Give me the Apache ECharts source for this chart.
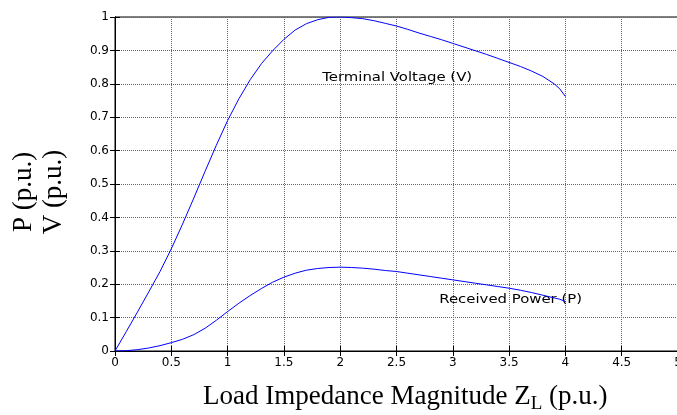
<!DOCTYPE html>
<html>
<head>
<meta charset="utf-8">
<script src="https://cdn.jsdelivr.net/npm/echarts@6/dist/echarts.min.js"></script>
<style>
  html, body { margin: 0; padding: 0; background: #fff; }
  #myChart { width: 677px; height: 415px; }
</style>
</head>
<body>
<div id="myChart"></div>
<script>
// load impedance magnitude Z_L (p.u.)
const zl = [0, 0.1, 0.2, 0.3, 0.4, 0.5, 0.6, 0.7, 0.8, 0.9, 1.0, 1.1, 1.2, 1.3, 1.4, 1.5, 1.6, 1.7, 1.8, 1.9, 2.0,
  2.1, 2.2, 2.3, 2.4, 2.5, 2.6, 2.7, 2.8, 2.9, 3.0, 3.1, 3.2, 3.3, 3.4, 3.5, 3.6, 3.7, 3.8, 3.9, 3.95, 4.0];
// terminal voltage V (p.u.)
const voltage = [0, 0.058, 0.117, 0.177, 0.238, 0.306, 0.38, 0.458, 0.538, 0.616, 0.69, 0.755, 0.812, 0.86,
  0.899, 0.933, 0.961, 0.98, 0.992, 0.999, 1.0, 0.998, 0.995, 0.989, 0.981, 0.973, 0.963, 0.952, 0.942, 0.932,
  0.921, 0.91, 0.899, 0.888, 0.876, 0.864, 0.852, 0.838, 0.822, 0.80, 0.785, 0.762];
// received power P (p.u.)
const power = [0, 0.001, 0.004, 0.009, 0.016, 0.025, 0.035, 0.049, 0.068, 0.092, 0.118, 0.143, 0.166, 0.187,
  0.206, 0.221, 0.233, 0.242, 0.247, 0.25, 0.251, 0.25, 0.248, 0.245, 0.241, 0.238, 0.233, 0.228, 0.223, 0.218,
  0.213, 0.208, 0.203, 0.198, 0.193, 0.188, 0.182, 0.175, 0.167, 0.159, 0.155, 0.148];

const annotations = [
  { text: 'Terminal Voltage (V)', at: [1.84, 0.817] },
  { text: 'Received Power (P)', at: [2.88, 0.152] },
];

const tickFont = 'DejaVu Sans';
const titleFont = 'Liberation Serif';

let myChart = echarts.init(document.getElementById('myChart'));

const gridLine = { show: true, lineStyle: { color: '#666', type: [1, 1], width: 1 } };

let option = {
  animation: false,
  grid: {
    left: 115, right: -1, top: 17, bottom: 64, outerBoundsMode: 'none',
    show: true, borderColor: '#000', borderWidth: 1,
  },
  xAxis: [
    {
      type: 'value', min: 0, max: 5, interval: 0.5,
      axisLine: { lineStyle: { color: '#000' } },
      axisTick: { inside: true, length: 5, lineStyle: { color: '#000' } },
      axisLabel: { color: '#000', fontFamily: tickFont, fontSize: 12, margin: 6 },
      splitLine: gridLine,
    },
    {
      type: 'value', min: 0, max: 5, interval: 0.5, position: 'top',
      axisLine: { lineStyle: { color: '#000' } },
      axisTick: { inside: true, length: 5, lineStyle: { color: '#000' } },
      axisLabel: { show: false },
      splitLine: { show: false },
    },
  ],
  yAxis: [
    {
      type: 'value', min: 0, max: 1, interval: 0.1,
      axisLine: { show: true, lineStyle: { color: '#000' } },
      axisTick: { show: true, inside: true, length: 5, lineStyle: { color: '#000' } },
      axisLabel: { color: '#000', fontFamily: tickFont, fontSize: 12, margin: 6 },
      splitLine: gridLine,
    },
    {
      type: 'value', min: 0, max: 1, interval: 0.1, position: 'right',
      axisLine: { show: true, lineStyle: { color: '#000' } },
      axisTick: { show: true, inside: true, length: 5, lineStyle: { color: '#000' } },
      axisLabel: { show: false },
      splitLine: { show: false },
    },
  ],
  series: [
    {
      name: 'Terminal Voltage (V)', type: 'line', smooth: false, showSymbol: false,
      data: zl.map((z, i) => [z, voltage[i]]),
      lineStyle: { color: '#0000ff', width: 1 },
    },
    {
      name: 'Received Power (P)', type: 'line', smooth: false, showSymbol: false,
      data: zl.map((z, i) => [z, power[i]]),
      lineStyle: { color: '#0000ff', width: 1 },
    },
  ],
};
myChart.setOption(option);

// text labels placed through the axes, plus the axis titles
let graphics = annotations.map(a => {
  const p = myChart.convertToPixel({ gridIndex: 0 }, a.at);
  return {
    type: 'text', x: p[0], y: p[1], scaleX: 1.24,
    style: { text: a.text, fontFamily: tickFont, fontSize: 12, fill: '#000', verticalAlign: 'middle' },
  };
});
graphics.push({
  type: 'text', x: 203, y: 399,
  style: {
    text: '{a|Load Impedance Magnitude Z}{s|L}{a| (p.u.)}',
    verticalAlign: 'middle',
    rich: {
      a: { fontFamily: titleFont, fontSize: 27, lineHeight: 30, padding: [0, 0, 4, 0], fill: '#000', verticalAlign: 'bottom' },
      s: { fontFamily: titleFont, fontSize: 19, lineHeight: 22, fill: '#000', verticalAlign: 'bottom' },
    },
  },
});
graphics.push({
  type: 'text', x: 38.5, y: 192, rotation: Math.PI / 2,
  style: {
    text: 'P (p.u.)\nV (p.u.)', fontFamily: titleFont, fontSize: 27, lineHeight: 30,
    fill: '#000', align: 'center', verticalAlign: 'middle',
  },
});
myChart.setOption({ graphic: graphics });
</script>
</body>
</html>
